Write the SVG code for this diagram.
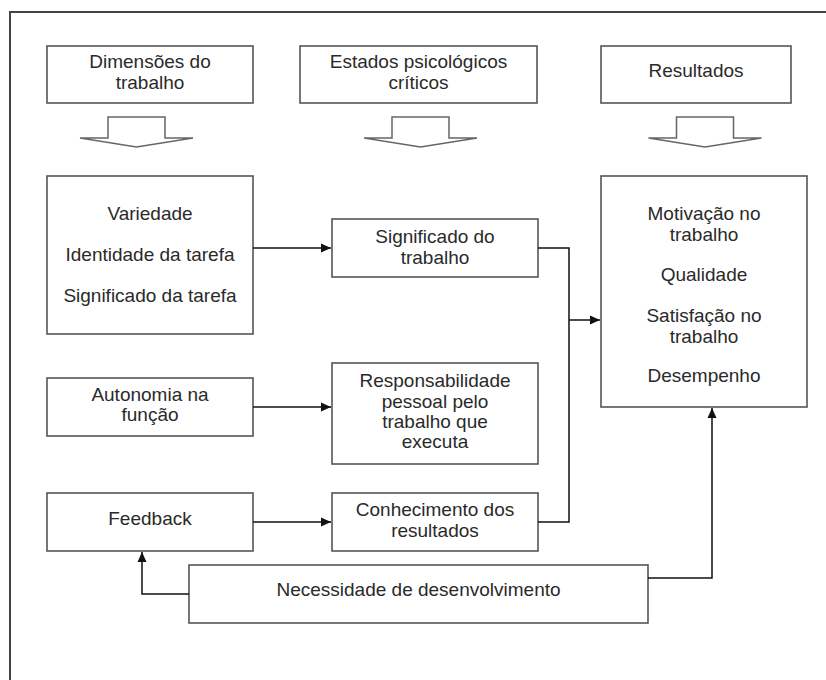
<svg xmlns="http://www.w3.org/2000/svg" width="826" height="680" viewBox="0 0 826 680">
  <defs>
    <style>
      .box { fill: #ffffff; stroke: #555555; stroke-width: 1.6; }
      .lbl { font-family: "Liberation Sans", Arial, sans-serif; font-size: 19px; fill: #2a2a2a; text-anchor: middle; }
      .wire { fill: none; stroke: #111111; stroke-width: 1.5; }
      .block { fill: #ffffff; stroke: #666666; stroke-width: 1.5; stroke-linejoin: miter; }
      .frame { fill: none; stroke: #444444; stroke-width: 2; }
    </style>
    <marker id="tip" markerUnits="userSpaceOnUse" markerWidth="12" markerHeight="10" refX="10" refY="5" orient="auto">
      <path d="M0,0.5 L10,5 L0,9.5 Z" fill="#111111"/>
    </marker>
    <!-- downward block arrow, centred on x=0 -->
    <path id="down" class="block" d="M-28.5,0 H28.5 V21 H56.5 L0,30 L-56.5,21 H-28.5 Z"/>
  </defs>

  <rect width="826" height="680" fill="#ffffff"/>
  <path class="frame" d="M10,680 V12 H826"/>

  <!-- column headers -->
  <g id="hdr-dimensoes">
    <rect class="box" x="47" y="46" width="206" height="57"/>
    <text class="lbl" x="150" y="68">Dimensões do</text>
    <text class="lbl" x="150" y="89">trabalho</text>
  </g>
  <g id="hdr-estados">
    <rect class="box" x="300" y="46" width="237" height="57"/>
    <text class="lbl" x="418.5" y="68">Estados psicológicos</text>
    <text class="lbl" x="418.5" y="89">críticos</text>
  </g>
  <g id="hdr-resultados">
    <rect class="box" x="601" y="46" width="190" height="57"/>
    <text class="lbl" x="696" y="77">Resultados</text>
  </g>

  <!-- block arrows under headers -->
  <g id="block-arrows">
    <use href="#down" x="136.5" y="117"/>
    <use href="#down" x="420.5" y="117"/>
    <use href="#down" x="705" y="117"/>
  </g>

  <!-- job dimensions -->
  <g id="dim-tarefa">
    <rect class="box" x="47" y="176" width="206" height="158"/>
    <text class="lbl" x="150" y="220">Variedade</text>
    <text class="lbl" x="150" y="261">Identidade da tarefa</text>
    <text class="lbl" x="150" y="302">Significado da tarefa</text>
  </g>
  <g id="dim-autonomia">
    <rect class="box" x="47" y="378" width="206" height="58"/>
    <text class="lbl" x="150" y="401">Autonomia na</text>
    <text class="lbl" x="150" y="421">função</text>
  </g>
  <g id="dim-feedback">
    <rect class="box" x="47" y="493" width="206" height="58"/>
    <text class="lbl" x="150" y="525">Feedback</text>
  </g>

  <!-- psychological states -->
  <g id="est-significado">
    <rect class="box" x="332" y="219" width="206" height="58"/>
    <text class="lbl" x="435" y="243">Significado do</text>
    <text class="lbl" x="435" y="264">trabalho</text>
  </g>
  <g id="est-responsabilidade">
    <rect class="box" x="332" y="363" width="206" height="101"/>
    <text class="lbl" x="435" y="387">Responsabilidade</text>
    <text class="lbl" x="435" y="407.5">pessoal pelo</text>
    <text class="lbl" x="435" y="428">trabalho que</text>
    <text class="lbl" x="435" y="448">executa</text>
  </g>
  <g id="est-conhecimento">
    <rect class="box" x="332" y="493" width="206" height="58"/>
    <text class="lbl" x="435" y="516">Conhecimento dos</text>
    <text class="lbl" x="435" y="537">resultados</text>
  </g>

  <!-- outcomes -->
  <g id="res-lista">
    <rect class="box" x="601" y="176" width="206" height="231"/>
    <text class="lbl" x="704" y="220">Motivação no</text>
    <text class="lbl" x="704" y="241">trabalho</text>
    <text class="lbl" x="704" y="281">Qualidade</text>
    <text class="lbl" x="704" y="322">Satisfação no</text>
    <text class="lbl" x="704" y="343">trabalho</text>
    <text class="lbl" x="704" y="382">Desempenho</text>
  </g>

  <!-- moderator -->
  <g id="necessidade">
    <rect class="box" x="189" y="565" width="459" height="58"/>
    <text class="lbl" x="418.5" y="596">Necessidade de desenvolvimento</text>
  </g>

  <!-- connectors -->
  <g id="connectors">
    <path class="wire" d="M253,248 H331" marker-end="url(#tip)"/>
    <path class="wire" d="M253,407 H331" marker-end="url(#tip)"/>
    <path class="wire" d="M253,522 H331" marker-end="url(#tip)"/>
    <path class="wire" d="M538,248 H569 V522 H538"/>
    <path class="wire" d="M569,320 H600" marker-end="url(#tip)"/>
    <path class="wire" d="M189,594 H142 V552" marker-end="url(#tip)"/>
    <path class="wire" d="M648,578 H712 V408" marker-end="url(#tip)"/>
  </g>
</svg>
